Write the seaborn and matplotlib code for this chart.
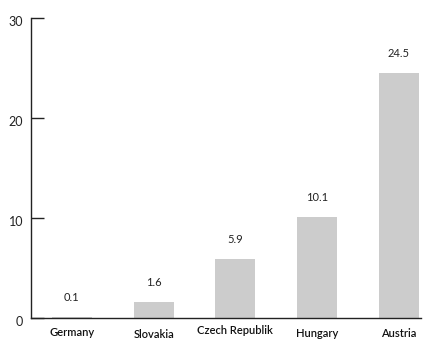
import matplotlib
matplotlib.use("Agg")
import matplotlib.pyplot as plt
import matplotlib.transforms as mtransforms
import seaborn as sns
import pandas as pd

categories = ["Germany", "Slovakia", "Czech Republik", "Hungary", "Austria"]
values = [0.1, 1.6, 5.9, 10.1, 24.5]
y_ticks = [0, 10, 20, 30]
label_dy = [0, -2, 2, -1, -1]  # small vertical offsets (px) of category labels

sns.set_theme(style="white")
plt.rcParams["font.family"] = ["Lato", "DejaVu Sans"]

df = pd.DataFrame({"country": categories, "value": values})

fig = plt.figure(figsize=(4.27, 3.41), dpi=100)
ax = fig.add_axes([31 / 427, 23 / 341, 390 / 427, 300 / 341])

sns.barplot(data=df, x="country", y="value", color="#cccccc", width=0.49,
            saturation=1, ax=ax, edgecolor="none")

ax.set_xlim(-0.5, 4.27)
ax.set_ylim(0, 30)
ax.set_yticks(y_ticks)
ax.set_xlabel("")
ax.set_ylabel("")

for s in ["top", "right"]:
    ax.spines[s].set_visible(False)
for s in ["left", "bottom"]:
    ax.spines[s].set_color("#222222")
    ax.spines[s].set_linewidth(1.0)

ax.tick_params(axis="y", direction="in", length=9, width=1, color="#222222",
               labelsize=9, labelcolor="#222222", pad=5.5)
ax.tick_params(axis="x", length=0, labelsize=8, labelcolor="#111111", pad=6.5)
ax.tick_params(axis="y", left=True)

for lbl, dy in zip(ax.get_xticklabels(), label_dy):
    lbl.set_fontweight("semibold")
    lbl.set_transform(lbl.get_transform() +
                      mtransforms.ScaledTranslation(0, dy / 100, fig.dpi_scale_trans))

for lbl in ax.get_yticklabels():
    lbl.set_transform(lbl.get_transform() +
                      mtransforms.ScaledTranslation(0, -3 / 100, fig.dpi_scale_trans))

for i, v in enumerate(values):
    ax.annotate(f"{v}", (i, v), xytext=(0, 14), textcoords="offset points",
                ha="center", va="center", fontsize=8, color="#222222")

fig.savefig("out.png", dpi=100)
